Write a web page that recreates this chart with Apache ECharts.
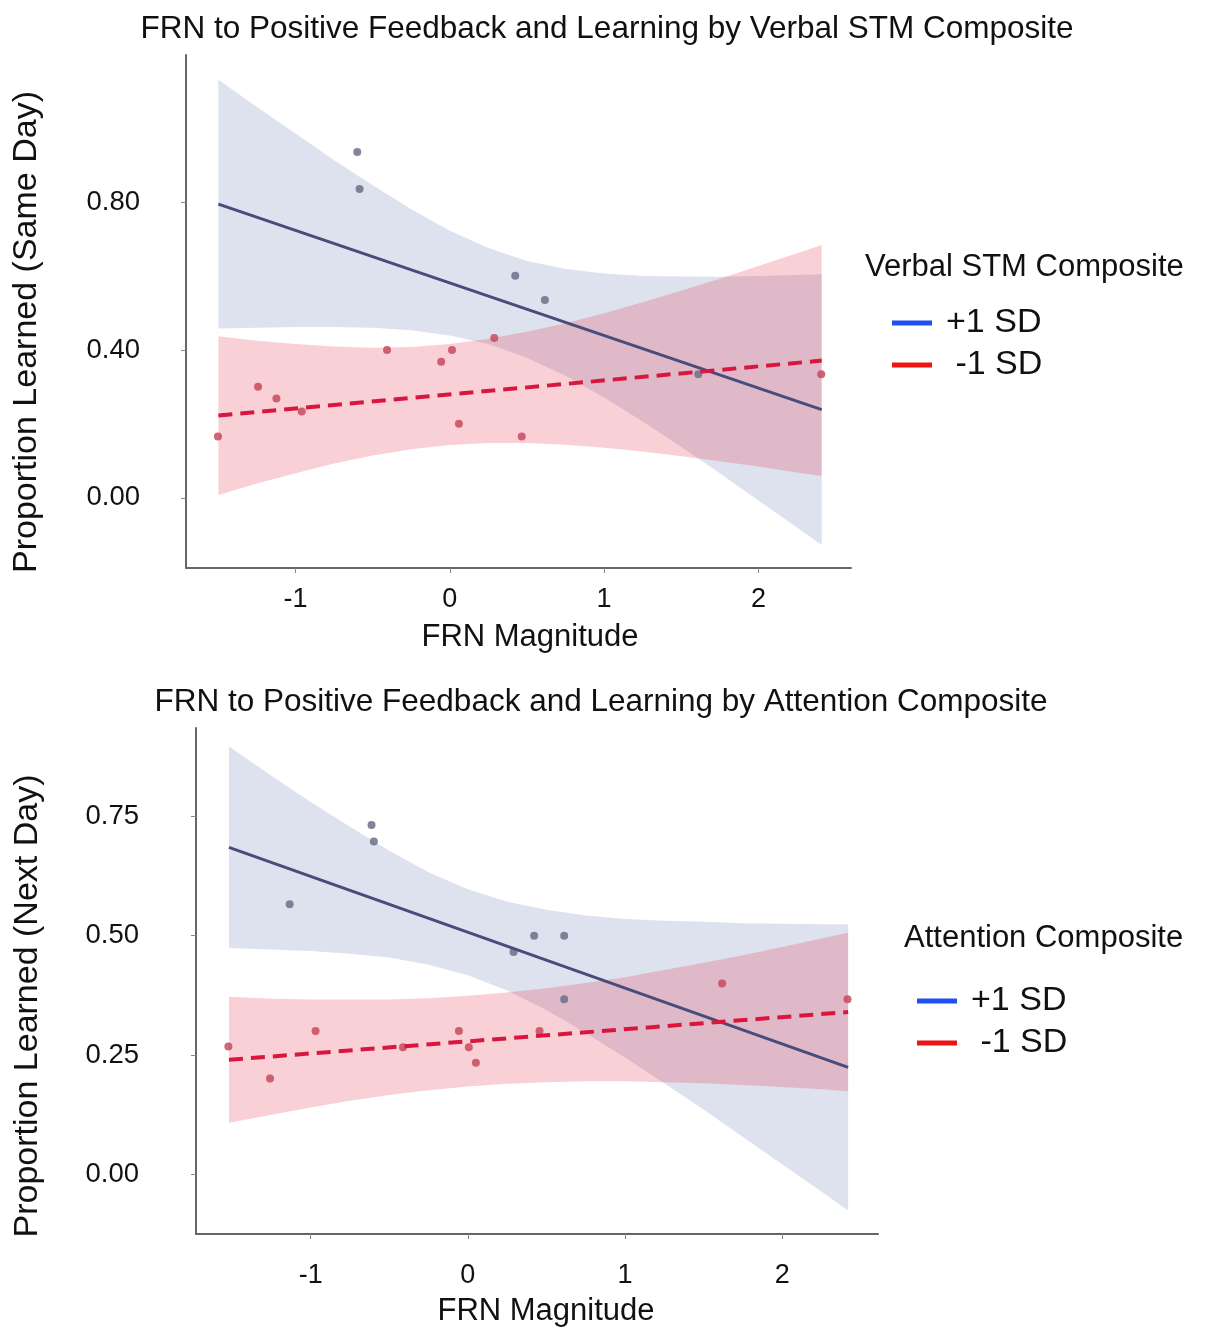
<!DOCTYPE html>
<html>
<head>
<meta charset="utf-8">
<script src="https://cdn.jsdelivr.net/npm/echarts@6/dist/echarts.min.js"></script>
<style>
  html, body { margin: 0; padding: 0; background: #fff; }
  #main { width: 1206px; height: 1330px; }
</style>
</head>
<body>
<div id="main"></div>
<script>
// 그래프 데이터 (위: Verbal STM, 아래: Attention)
var xTicks = [-1, 0, 1, 2];
var yTicksTop = [0, 0.4, 0.8];
var yTicksBottom = [0, 0.25, 0.5, 0.75];

// top chart: band x positions and CI edges
var bandXTop = [-1.5, -1.25, -1, -0.75, -0.5, -0.25, 0, 0.25, 0.5, 0.75, 1, 1.25, 1.5, 1.75, 2, 2.25, 2.41];
var hiBlueTop = [1.133, 1.059, 0.987, 0.915, 0.847, 0.782, 0.724, 0.677, 0.642, 0.620, 0.608, 0.601, 0.600, 0.599, 0.601, 0.604, 0.606];
var loBlueTop = [0.459, 0.461, 0.463, 0.463, 0.461, 0.454, 0.440, 0.417, 0.380, 0.331, 0.272, 0.207, 0.138, 0.067, -0.007, -0.080, -0.128];
var hiRedTop = [0.438, 0.426, 0.417, 0.410, 0.407, 0.409, 0.417, 0.431, 0.450, 0.473, 0.500, 0.530, 0.561, 0.594, 0.628, 0.663, 0.685];
var loRedTop = [0.008, 0.039, 0.067, 0.093, 0.115, 0.132, 0.143, 0.149, 0.149, 0.144, 0.136, 0.126, 0.113, 0.099, 0.085, 0.069, 0.059];
var lineBlueTop = [[-1.5, 0.796], [2.41, 0.239]];
var lineRedTop = [[-1.5, 0.223], [2.41, 0.372]];
var ptsBlueTop = [[-0.60, 0.937], [-0.585, 0.837], [0.424, 0.602], [0.616, 0.536], [1.61, 0.335]];
var ptsRedTop = [[-1.503, 0.166], [-1.243, 0.301], [-1.124, 0.269], [-0.96, 0.234], [-0.407, 0.401], [-0.056, 0.369],
  [0.014, 0.401], [0.059, 0.201], [0.288, 0.433], [0.466, 0.166], [2.407, 0.335]];

// bottom chart
var bandXBot = [-1.52, -1.25, -1, -0.75, -0.5, -0.25, 0, 0.25, 0.5, 0.75, 1, 1.25, 1.5, 1.75, 2, 2.25, 2.42];
var hiBlueBot = [0.896, 0.835, 0.780, 0.728, 0.678, 0.633, 0.597, 0.571, 0.554, 0.542, 0.535, 0.531, 0.529, 0.526, 0.525, 0.524, 0.524];
var loBlueBot = [0.474, 0.471, 0.468, 0.462, 0.454, 0.439, 0.417, 0.385, 0.344, 0.296, 0.245, 0.191, 0.136, 0.078, 0.021, -0.036, -0.076];
var hiRedBot = [0.372, 0.368, 0.366, 0.366, 0.366, 0.369, 0.374, 0.381, 0.390, 0.401, 0.413, 0.428, 0.443, 0.459, 0.476, 0.494, 0.506];
var loRedBot = [0.108, 0.125, 0.140, 0.154, 0.166, 0.176, 0.184, 0.190, 0.193, 0.195, 0.195, 0.193, 0.191, 0.187, 0.183, 0.178, 0.174];
var lineBlueBot = [[-1.52, 0.685], [2.42, 0.224]];
var lineRedBot = [[-1.52, 0.240], [2.42, 0.340]];
var ptsBlueBot = [[-0.613, 0.732], [-0.598, 0.697], [-1.134, 0.566], [0.291, 0.466], [0.422, 0.500], [0.613, 0.500], [0.613, 0.367]];
var ptsRedBot = [[-1.524, 0.268], [-1.259, 0.201], [-0.969, 0.300], [-0.413, 0.266], [-0.057, 0.300], [0.006, 0.266],
  [0.051, 0.234], [0.456, 0.300], [1.618, 0.400], [2.416, 0.367]];

var FONT = "'Liberation Sans', Arial, Helvetica, sans-serif";
var BLUE_BAND = 'rgba(70, 90, 160, 0.18)';
var RED_BAND = 'rgba(225, 60, 80, 0.24)';

function zip3(xs, lo, hi) {
    var out = [];
    for (var i = 0; i < xs.length; i++) out.push([xs[i], lo[i], hi[i]]);
    return out;
}

// CI band polygon drawn once from all rows
function bandItem(color) {
    return function (params, api) {
        if (params.dataIndexInside !== 0) return;
        var n = params.dataInsideLength, upper = [], lower = [];
        for (var i = 0; i < n; i++) {
            upper.push(api.coord([api.value(0, i), api.value(2, i)]));
            lower.unshift(api.coord([api.value(0, i), api.value(1, i)]));
        }
        return {
            type: 'polygon',
            shape: { points: upper.concat(lower) },
            style: { fill: color }
        };
    };
}

function xAxisOf(grid, min, max, margin) {
    return {
        type: 'value', gridIndex: grid, min: min, max: max,
        splitLine: { show: false },
        axisLine: { show: true, onZero: false, lineStyle: { color: '#666', width: 2 } },
        axisTick: { show: true, length: 5, lineStyle: { color: '#888' }, customValues: xTicks },
        axisLabel: { fontFamily: FONT, fontSize: 27, color: '#111', margin: margin, customValues: xTicks }
    };
}

function yAxisOf(grid, min, max, ticks, margin) {
    return {
        type: 'value', gridIndex: grid, min: min, max: max,
        splitLine: { show: false },
        axisLine: { show: true, onZero: false, lineStyle: { color: '#666', width: 2 } },
        axisTick: { show: true, length: 5, lineStyle: { color: '#888' }, customValues: ticks },
        axisLabel: {
            fontFamily: FONT, fontSize: 27.5, color: '#111', margin: margin, customValues: ticks,
            formatter: function (v) { return v.toFixed(2); }
        }
    };
}

function panelSeries(idx, loB, hiB, loR, hiR, xs, lineB, lineR, ptsB, ptsR) {
    return [{
        type: 'custom', xAxisIndex: idx, yAxisIndex: idx, silent: true,
        renderItem: bandItem(BLUE_BAND), encode: { x: 0, y: [1, 2] },
        data: zip3(xs, loB, hiB), z: 1
    }, {
        type: 'custom', xAxisIndex: idx, yAxisIndex: idx, silent: true,
        renderItem: bandItem(RED_BAND), encode: { x: 0, y: [1, 2] },
        data: zip3(xs, loR, hiR), z: 2
    }, {
        type: 'scatter', xAxisIndex: idx, yAxisIndex: idx, symbolSize: 8,
        itemStyle: { color: '#6c7088', opacity: 0.85 }, data: ptsB, z: 3
    }, {
        type: 'scatter', xAxisIndex: idx, yAxisIndex: idx, symbolSize: 8,
        itemStyle: { color: '#c84a5e', opacity: 0.85 }, data: ptsR, z: 3
    }, {
        name: '+1 SD', type: 'line', xAxisIndex: idx, yAxisIndex: idx, symbol: 'none',
        lineStyle: { color: '#474c7a', width: 3 }, itemStyle: { color: '#474c7a' },
        data: lineB, z: 4
    }, {
        name: '-1 SD', type: 'line', xAxisIndex: idx, yAxisIndex: idx, symbol: 'none',
        lineStyle: { color: '#d8163e', width: 4, type: [14, 8] }, itemStyle: { color: '#d8163e' },
        data: lineR, z: 5
    }];
}

function legendOf(left, top) {
    return {
        orient: 'vertical', left: left, top: top, itemGap: 8, padding: 0,
        itemWidth: 40, itemHeight: 5, selectedMode: false,
        textStyle: { fontFamily: FONT, fontSize: 34, color: '#111', lineHeight: 34, padding: [0, 0, 0, 9] },
        formatter: function (name) { return name === '-1 SD' ? ' -1 SD' : name; },
        data: [
            { name: '+1 SD', icon: 'rect', itemStyle: { color: '#1f4fef' } },
            { name: '-1 SD', icon: 'rect', itemStyle: { color: '#ee1414' } }
        ]
    };
}

function textAt(x, y, text, size, rotate) {
    return {
        type: 'text', x: x, y: y, rotation: rotate ? Math.PI / 2 : 0,
        style: {
            text: text, fontFamily: FONT, fontSize: size, fill: '#111',
            textAlign: rotate ? 'center' : 'left', textVerticalAlign: 'middle'
        }
    };
}

var chart = echarts.init(document.getElementById('main'));

var option = {
    backgroundColor: '#fff',
    animation: false,
    title: [{
        text: 'FRN to Positive Feedback and Learning by Verbal STM Composite',
        left: 602, top: 8, textAlign: 'center',
        textStyle: { fontFamily: FONT, fontSize: 31.5, fontWeight: 'normal', color: '#111' }
    }, {
        text: 'FRN to Positive Feedback and Learning by Attention Composite',
        left: 596, top: 681, textAlign: 'center',
        textStyle: { fontFamily: FONT, fontSize: 31.5, fontWeight: 'normal', color: '#111' }
    }],
    grid: [
        { left: 186, top: 55, width: 665, height: 513 },
        { left: 196, top: 728, width: 682, height: 506 }
    ],
    xAxis: [xAxisOf(0, -1.71, 2.60, 18), xAxisOf(1, -1.73, 2.61, 28)],
    yAxis: [yAxisOf(0, -0.19, 1.20, yTicksTop, 46), yAxisOf(1, -0.125, 0.935, yTicksBottom, 57)],
    legend: [legendOf(892, 306), legendOf(917, 984)],
    graphic: [
        textAt(27, 332, 'Proportion Learned (Same Day)', 34, true),
        textAt(28, 1006, 'Proportion Learned (Next Day)', 34, true),
        { type: 'text', x: 530, y: 637, style: { text: 'FRN Magnitude', fontFamily: FONT, fontSize: 31, fill: '#111', textAlign: 'center', textVerticalAlign: 'middle' } },
        { type: 'text', x: 546, y: 1311, style: { text: 'FRN Magnitude', fontFamily: FONT, fontSize: 31, fill: '#111', textAlign: 'center', textVerticalAlign: 'middle' } },
        textAt(865, 267, 'Verbal STM Composite', 31, false),
        textAt(904, 938, 'Attention Composite', 31, false)
    ],
    series: panelSeries(0, loBlueTop, hiBlueTop, loRedTop, hiRedTop, bandXTop, lineBlueTop, lineRedTop, ptsBlueTop, ptsRedTop)
        .concat(panelSeries(1, loBlueBot, hiBlueBot, loRedBot, hiRedBot, bandXBot, lineBlueBot, lineRedBot, ptsBlueBot, ptsRedBot))
};

chart.setOption(option);

window.addEventListener('resize', function () {
    chart.resize();
});
</script>
</body>
</html>
